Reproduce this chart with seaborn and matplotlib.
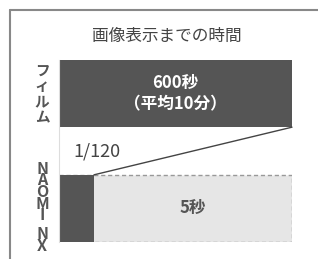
import matplotlib.pyplot as plt
from matplotlib.lines import Line2D
import pandas as pd
import seaborn as sns

# data
categories = ["フィルム", "NAOMI NX"]
seconds = [600, 5]
drawn_lengths = [600, 90]          # illustrative bar lengths as drawn
full_scale = [600, 600]
bar_labels = ["600秒\n（平均10分）", "5秒"]
ratio_label = "1/120"
title = "画像表示までの時間"

sns.set_theme(style="white")
plt.rcParams["font.family"] = ["Noto Sans CJK JP", "DejaVu Sans"]

DARK = "#555555"
LIGHT = "#e6e6e6"

fig = plt.figure(figsize=(3.18, 2.59), dpi=100)
ax = fig.add_axes([59 / 318, 17 / 259, 233 / 318, 182 / 259])

df = pd.DataFrame({"cat": categories, "len": drawn_lengths, "full": full_scale})
bw = 0.585

# light dashed background for the NAOMI row
bg = df.copy()
bg.loc[0, "full"] = 0
sns.barplot(data=bg, y="cat", x="full", orient="h", width=bw, color=LIGHT,
            edgecolor="#999999", linewidth=1, linestyle=(0, (3, 2)), ax=ax,
            saturation=1)
sns.barplot(data=df, y="cat", x="len", orient="h", width=bw, color=DARK,
            linewidth=0, ax=ax, saturation=1)

ax.set_xlim(0, 600)
ax.set_ylim(1 + bw / 2, -bw / 2)
ax.set_xlabel("")
ax.set_ylabel("")
ax.set_xticks([])
ax.set_yticks([])
for s in ["top", "right", "bottom"]:
    ax.spines[s].set_visible(False)
ax.spines["left"].set_color("#dddddd")
ax.spines["left"].set_linewidth(0.8)

# connecting line
ax.plot([drawn_lengths[1], drawn_lengths[0]], [1 - bw / 2, 0 + bw / 2],
        color="#444444", linewidth=1, clip_on=False)

ax.text(300, 0, bar_labels[0], color="white", ha="center", va="center",
        fontsize=12, fontweight="bold", linespacing=1.2)
ax.text(345, 1, bar_labels[1], color=DARK, ha="center", va="center",
        fontsize=12, fontweight="bold")
ax.text(36, 0.5, ratio_label, color="#444444", ha="left", va="center",
        fontsize=13)

fig.text(167 / 318, 1 - 36 / 259, title, ha="center", va="center",
         fontsize=12, color="#444444")

# stacked vertical category labels
fig.text(42 / 318, 1 - 94 / 259, "\n".join("フィルム"), ha="center",
         va="center", fontsize=10.5, fontweight="bold", color="#555555",
         linespacing=0.95)
fig.text(42 / 318, 1 - 192 / 259, "\n".join("NAOMI"), ha="center",
         va="center", fontsize=11.5, fontweight="bold", color="#555555",
         linespacing=0.66)
fig.text(42 / 318, 1 - 240 / 259, "\n".join("NX"), ha="center",
         va="center", fontsize=11.5, fontweight="bold", color="#555555",
         linespacing=0.66)

# outer frame
fig.add_artist(Line2D([10 / 318, 10 / 318], [0, 1 - 10 / 259],
                      transform=fig.transFigure, color="#888888", linewidth=1.5))
fig.add_artist(Line2D([10 / 318, 1], [1 - 10 / 259, 1 - 10 / 259],
                      transform=fig.transFigure, color="#888888", linewidth=1.5))

fig.savefig("out.png", dpi=100)
